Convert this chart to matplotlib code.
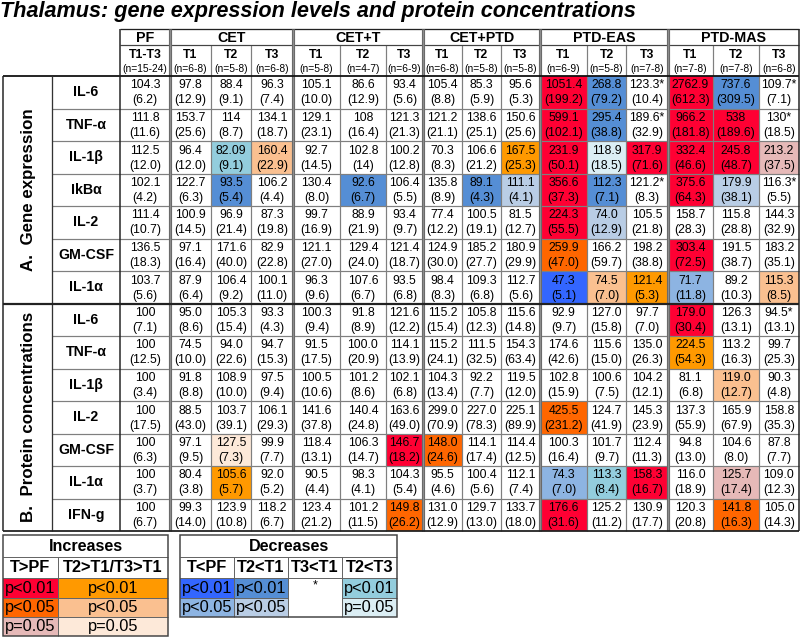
import matplotlib
matplotlib.use("Agg")
import matplotlib.pyplot as plt
from matplotlib.patches import Rectangle

plt.rcParams['font.family'] = ['Liberation Sans', 'DejaVu Sans']

title = "Thalamus: gene expression levels and protein concentrations"
groups = ["PF", "CET", "CET+T", "CET+PTD", "PTD-EAS", "PTD-MAS"]
group_sizes = [1, 3, 3, 3, 3, 3]
time_labels = ["T1-T3", "T1", "T2", "T3", "T1", "T2", "T3", "T1", "T2", "T3",
               "T1", "T2", "T3", "T1", "T2", "T3"]
n_labels = ["(n=15-24)", "(n=6-8)", "(n=5-8)", "(n=6-8)", "(n=5-8)", "(n=4-7)", "(n=6-9)",
            "(n=6-8)", "(n=5-8)", "(n=5-8)", "(n=6-9)", "(n=5-8)", "(n=7-8)",
            "(n=7-8)", "(n=7-8)", "(n=6-8)"]

section_labels = ["A.  Gene expression", "B.  Protein concentrations"]
gene_rows = ["IL-6", "TNF-α", "IL-1β", "IkBα", "IL-2", "GM-CSF", "IL-1α"]
protein_rows = ["IL-6", "TNF-α", "IL-1β", "IL-2", "GM-CSF", "IL-1α", "IFN-g"]

gene_mean = [
    ["104.3", "97.8", "88.4", "96.3", "105.1", "86.6", "93.4", "105.4", "85.3", "95.6", "1051.4", "268.8", "123.3*", "2762.9", "737.6", "109.7*"],
    ["111.8", "153.7", "114", "134.1", "129.1", "108", "121.3", "121.2", "138.6", "150.6", "599.1", "295.4", "189.6*", "966.2", "538", "130*"],
    ["112.5", "96.4", "82.09", "160.4", "92.7", "102.8", "100.2", "70.3", "106.6", "167.5", "231.9", "118.9", "317.9", "332.4", "245.8", "213.2"],
    ["102.1", "122.7", "93.5", "106.2", "130.4", "92.6", "106.4", "135.8", "89.1", "111.1", "356.6", "112.3", "121.2*", "375.6", "179.9", "116.3*"],
    ["111.4", "100.9", "96.9", "87.3", "99.7", "88.9", "93.4", "77.4", "100.5", "81.5", "224.3", "74.0", "105.5", "158.7", "115.8", "144.3"],
    ["136.5", "97.1", "171.6", "82.9", "121.1", "129.4", "121.4", "124.9", "185.2", "180.9", "259.9", "166.2", "198.2", "303.4", "191.5", "183.2"],
    ["103.7", "87.9", "106.4", "100.1", "96.3", "107.6", "93.5", "98.4", "109.3", "112.7", "47.3", "74.5", "121.4", "71.7", "89.2", "115.3"],
]
gene_sem = [
    ["6.2", "12.9", "9.1", "7.4", "10.0", "12.9", "5.6", "8.8", "5.9", "5.3", "199.2", "79.2", "10.4", "612.3", "309.5", "7.1"],
    ["11.6", "25.6", "8.7", "18.7", "23.1", "16.4", "21.3", "21.1", "25.1", "25.6", "102.1", "38.8", "32.9", "181.8", "189.6", "18.5"],
    ["12.0", "12.0", "9.1", "22.9", "14.5", "14", "12.8", "8.3", "21.2", "25.3", "50.1", "18.5", "71.6", "46.6", "48.7", "37.5"],
    ["4.2", "6.3", "5.4", "4.4", "8.0", "6.7", "5.5", "8.9", "4.3", "4.1", "37.3", "7.1", "8.3", "64.3", "38.1", "5.5"],
    ["10.7", "14.5", "21.4", "19.8", "16.9", "21.9", "9.7", "12.2", "19.1", "12.7", "55.5", "12.9", "21.8", "28.3", "28.8", "32.9"],
    ["18.3", "16.4", "40.0", "22.8", "27.0", "24.0", "18.7", "30.0", "27.7", "29.9", "47.0", "59.7", "38.8", "72.5", "38.7", "35.1"],
    ["5.6", "6.4", "9.2", "11.0", "9.6", "6.7", "6.8", "8.3", "6.8", "5.6", "5.1", "7.0", "5.3", "11.8", "10.3", "8.5"],
]
gene_sig = [
    ["", "", "", "", "", "", "", "", "", "", "R1", "D1", "", "R1", "D1", ""],
    ["", "", "", "", "", "", "", "", "", "", "R1", "D1", "", "R1", "R1", ""],
    ["", "", "C1", "O5", "", "", "", "", "", "O1", "R1", "C0", "R1", "R1", "R1", "R0"],
    ["", "", "D1", "", "", "D1", "", "", "D1", "D5", "R1", "D1", "", "R1", "D5", ""],
    ["", "", "", "", "", "", "", "", "", "", "R1", "D5", "", "", "", ""],
    ["", "", "", "", "", "", "", "", "", "", "R5", "", "", "R1", "", ""],
    ["", "", "", "", "", "", "", "", "", "", "B1", "O5", "O1", "B5", "", "O5"],
]

protein_mean = [
    ["100", "95.0", "105.3", "93.3", "100.3", "91.8", "121.6", "115.2", "105.8", "115.6", "92.9", "127.0", "97.7", "179.0", "126.3", "94.5*"],
    ["100", "74.5", "94.0", "94.7", "91.5", "100.0", "114.1", "115.2", "111.5", "154.3", "174.6", "115.6", "135.0", "224.5", "113.2", "99.7"],
    ["100", "91.8", "108.9", "97.5", "100.5", "101.2", "102.1", "104.3", "92.2", "119.5", "102.8", "100.6", "104.2", "81.1", "119.0", "90.3"],
    ["100", "88.5", "103.7", "106.1", "141.6", "140.4", "163.6", "299.0", "227.0", "225.1", "425.5", "124.7", "145.3", "137.3", "165.9", "158.8"],
    ["100", "97.1", "127.5", "99.9", "118.4", "106.3", "146.7", "148.0", "114.1", "114.4", "100.3", "101.7", "112.4", "94.8", "104.6", "87.8"],
    ["100", "80.4", "105.6", "92.0", "90.5", "98.3", "104.3", "95.5", "100.4", "112.1", "74.3", "113.3", "158.3", "116.0", "125.7", "109.0"],
    ["100", "99.3", "123.9", "118.2", "123.4", "101.2", "149.8", "131.0", "129.7", "133.7", "176.6", "125.2", "130.9", "120.3", "141.8", "105.0"],
]
protein_sem = [
    ["7.1", "8.6", "15.4", "4.3", "9.4", "8.9", "12.2", "15.4", "12.3", "14.8", "9.7", "15.8", "7.0", "30.4", "13.1", "13.1"],
    ["12.5", "10.0", "22.6", "15.3", "17.5", "20.9", "13.9", "24.1", "32.5", "63.4", "42.6", "15.0", "26.3", "54.3", "16.3", "25.3"],
    ["3.4", "8.8", "10.0", "9.4", "10.6", "8.6", "6.8", "13.4", "7.7", "12.0", "15.9", "7.5", "12.1", "6.8", "12.7", "4.8"],
    ["17.5", "43.0", "39.1", "29.3", "37.8", "24.8", "49.0", "70.9", "78.3", "89.9", "231.2", "41.9", "23.9", "55.9", "67.9", "35.3"],
    ["6.3", "9.5", "7.3", "7.7", "13.1", "14.7", "18.2", "24.6", "17.4", "12.5", "16.4", "9.7", "11.3", "13.0", "8.0", "7.7"],
    ["3.7", "3.8", "5.7", "5.2", "4.4", "4.1", "5.4", "4.6", "5.6", "7.4", "7.0", "8.4", "16.7", "18.9", "17.4", "12.3"],
    ["6.7", "14.0", "10.8", "6.7", "21.2", "11.5", "26.2", "12.9", "13.0", "18.0", "31.6", "11.2", "17.7", "20.8", "16.3", "14.3"],
]
protein_sig = [
    ["", "", "", "", "", "", "", "", "", "", "", "", "", "R1", "", ""],
    ["", "", "", "", "", "", "", "", "", "", "", "", "", "O1", "", ""],
    ["", "", "", "", "", "", "", "", "", "", "", "", "", "", "O5", ""],
    ["", "", "", "", "", "", "", "", "", "", "R5", "", "", "", "", ""],
    ["", "", "O0", "", "", "", "R1", "R5", "", "", "", "", "", "", "", ""],
    ["", "", "O1", "", "", "", "", "", "", "", "B5", "C1", "R1", "", "R0", ""],
    ["", "", "", "", "", "", "R5", "", "", "", "R1", "", "", "", "R5", ""],
]

sig_colors = {
    "R1": "#FF0033", "R5": "#FF6600", "R0": "#E6B9B8",
    "O1": "#FF9900", "O5": "#FAC090", "O0": "#FDE9D9",
    "B1": "#3366FF", "B5": "#8DB4E2",
    "D1": "#558ED5", "D5": "#B9CDE5",
    "C1": "#93CDDD", "C0": "#DBEEF4",
}

inc_headers = ["T>PF", "T2>T1/T3>T1"]
inc_levels = ["p<0.01", "p<0.05", "p=0.05"]
inc_codes = [["R1", "R5", "R0"], ["O1", "O5", "O0"]]
dec_headers = ["T<PF", "T2<T1", "T3<T1", "T2<T3"]
dec_texts = [["p<0.01", "p<0.05"], ["p<0.01", "p<0.05"], ["*", ""], ["p<0.01", "p=0.05"]]
dec_codes = [["B1", "B5"], ["D1", "D5"], ["", ""], ["C1", "C0"]]

# ---------------- layout ----------------
W, H = 800, 637
fig = plt.figure(figsize=(W / 100, H / 100), dpi=100)
ax = fig.add_axes([0, 0, 1, 1])
ax.set_xlim(0, W)
ax.set_ylim(H, 0)
ax.axis("off")

PX = 0.72  # points per pixel
col_edges = [120, 170, 211, 251, 293, 340, 386, 423, 462, 501, 540, 587, 626, 668, 713, 759, 799]
x_left, x_sec, x_name = 3, 52, 120
y_top, y_grp, y_hdr = 29, 45, 76
row_h = 32.5
n_rows = len(gene_rows) + len(protein_rows)
y_bottom = y_hdr + n_rows * row_h

GRID = "#7f7f7f"
SEP = "#8c8c8c"
FS_VAL = 8.8

fig.text(0.0, 1 - 12 / H, title, fontsize=15.6, fontweight="bold", style="italic",
         va="center", ha="left")

# colored cells
all_rows_mean = gene_mean + protein_mean
all_rows_sem = gene_sem + protein_sem
all_sig = gene_sig + protein_sig
for r in range(n_rows):
    y0 = y_hdr + r * row_h
    for c in range(len(col_edges) - 1):
        code = all_sig[r][c]
        if code:
            ax.add_patch(Rectangle((col_edges[c], y0), col_edges[c + 1] - col_edges[c], row_h,
                                   facecolor=sig_colors[code], edgecolor="none", zorder=1))
        xc = (col_edges[c] + col_edges[c + 1]) / 2
        ax.text(xc, y0 + 9.5, all_rows_mean[r][c], ha="center", va="center", fontsize=FS_VAL, zorder=3)
        ax.text(xc, y0 + 24.5, "(" + all_rows_sem[r][c] + ")", ha="center", va="center",
                fontsize=FS_VAL, zorder=3)

# header texts
gstart = 0
for g, size in zip(groups, group_sizes):
    x0, x1 = col_edges[gstart], col_edges[gstart + size]
    ax.text((x0 + x1) / 2, 37.5, g, ha="center", va="center", fontsize=10.3, fontweight="bold")
    gstart += size
for c in range(len(col_edges) - 1):
    xc = (col_edges[c] + col_edges[c + 1]) / 2
    ax.text(xc, 54.5, time_labels[c], ha="center", va="center", fontsize=8.8, fontweight="bold")
    ax.text(xc, 69.5, n_labels[c], ha="center", va="center", fontsize=7.4)

# row labels
row_names = gene_rows + protein_rows
for r, name in enumerate(row_names):
    y0 = y_hdr + r * row_h
    ax.text((x_sec + x_name) / 2, y0 + row_h / 2, name, ha="center", va="center",
            fontsize=10.2, fontweight="bold")
n_gene = len(gene_rows)
y_mid = y_hdr + n_gene * row_h
ax.text((x_left + x_sec) / 2 + 1, (y_hdr + y_mid) / 2, section_labels[0], rotation=90,
        ha="center", va="center", fontsize=12.2, fontweight="bold")
ax.text((x_left + x_sec) / 2 + 1, (y_mid + y_bottom) / 2, section_labels[1], rotation=90,
        ha="center", va="center", fontsize=12.2, fontweight="bold")

# grid lines
def hline(y, x0, x1, color=GRID, lw=1.0, z=4):
    ax.plot([x0, x1], [y, y], color=color, lw=lw * PX, zorder=z, solid_capstyle="butt")

def vline(x, y0, y1, color=GRID, lw=1.0, z=4):
    ax.plot([x, x], [y0, y1], color=color, lw=lw * PX, zorder=z, solid_capstyle="butt")

for r in range(1, n_rows):
    y = y_hdr + r * row_h
    if r == n_gene:
        continue
    hline(y, x_sec, col_edges[-1], lw=1.2)
group_bounds = [0]
for s in group_sizes:
    group_bounds.append(group_bounds[-1] + s)
for c in range(1, len(col_edges) - 1):
    if c in group_bounds:
        continue
    vline(col_edges[c], y_grp, y_bottom, lw=1.2)
for c in group_bounds[1:-1]:
    vline(col_edges[c], y_top, y_bottom, color=SEP, lw=3.2, z=5)
    vline(col_edges[c] - 1.4, y_top, y_bottom, color="#555555", lw=0.6, z=6)
    vline(col_edges[c] + 1.4, y_top, y_bottom, color="#555555", lw=0.6, z=6)
hline(y_top, x_name, col_edges[-1], color="#222222", lw=1.3)
hline(y_grp, x_name, col_edges[-1], color="#444444", lw=1.2)
hline(y_hdr, x_left, col_edges[-1], color="#111111", lw=1.8, z=6)
vline(x_name, y_top, y_bottom, color="#222222", lw=1.5, z=6)
vline(col_edges[-1], y_top, y_bottom, color="#222222", lw=1.5, z=6)
vline(x_left, y_hdr, y_bottom, color="#222222", lw=1.5, z=6)
vline(x_sec, y_hdr, y_bottom, color="#333333", lw=1.3, z=6)
hline(y_bottom, x_left, col_edges[-1], color="#222222", lw=1.8, z=6)
hline(y_mid, x_left, col_edges[-1], color="#222222", lw=2.2, z=6)

# ---------------- legends ----------------
LG = "#666666"
ix = [3, 58, 168]
iy = [535, 557, 578, 597.5, 617, 636]
for i in range(2):
    for j, code in enumerate(inc_codes[i]):
        ax.add_patch(Rectangle((ix[i], iy[2 + j]), ix[i + 1] - ix[i], iy[3 + j] - iy[2 + j],
                               facecolor=sig_colors[code], edgecolor="none", zorder=1))
        ax.text((ix[i] + ix[i + 1]) / 2, (iy[2 + j] + iy[3 + j]) / 2 + 0.5, inc_levels[j],
                ha="center", va="center", fontsize=11.8)
    ax.text((ix[i] + ix[i + 1]) / 2, (iy[1] + iy[2]) / 2 + 0.5, inc_headers[i], ha="center",
            va="center", fontsize=11.8, fontweight="bold")
ax.text((ix[0] + ix[-1]) / 2, (iy[0] + iy[1]) / 2 + 0.5, "Increases", ha="center", va="center",
        fontsize=11.6, fontweight="bold")
for y in iy[1:-1]:
    hline(y, ix[0], ix[-1], color=LG, lw=1.0)
vline(ix[1], iy[1], iy[-1], color=LG, lw=1.0)
ax.add_patch(Rectangle((ix[0], iy[0]), ix[-1] - ix[0], iy[-1] - iy[0], facecolor="none",
                       edgecolor="#444444", lw=1.5 * PX, zorder=6))

dx = [180, 234, 288, 342, 397]
dy = [535, 557, 578, 597.5, 617]
for i in range(4):
    for j in range(2):
        code = dec_codes[i][j]
        if code:
            ax.add_patch(Rectangle((dx[i], dy[2 + j]), dx[i + 1] - dx[i], dy[3 + j] - dy[2 + j],
                                   facecolor=sig_colors[code], edgecolor="none", zorder=1))
        if dec_texts[i][j]:
            yy = (dy[2 + j] + dy[3 + j]) / 2 + 0.5
            if dec_texts[i][j] == "*":
                yy = dy[2] + 7
            ax.text((dx[i] + dx[i + 1]) / 2, yy, dec_texts[i][j], ha="center", va="center",
                    fontsize=11.8 if dec_texts[i][j] != "*" else 9)
    ax.text((dx[i] + dx[i + 1]) / 2, (dy[1] + dy[2]) / 2 + 0.5, dec_headers[i], ha="center",
            va="center", fontsize=11.8, fontweight="bold")
ax.text((dx[0] + dx[-1]) / 2, (dy[0] + dy[1]) / 2 + 0.5, "Decreases", ha="center", va="center",
        fontsize=11.6, fontweight="bold")
hline(dy[1], dx[0], dx[-1], color=LG)
hline(dy[2], dx[0], dx[-1], color=LG)
hline(dy[3], dx[0], dx[2], color=LG)
hline(dy[3], dx[3], dx[4], color=LG)
for x in dx[1:-1]:
    vline(x, dy[1], dy[-1], color=LG)
ax.add_patch(Rectangle((dx[0], dy[0]), dx[-1] - dx[0], dy[-1] - dy[0], facecolor="none",
                       edgecolor="#444444", lw=1.5 * PX, zorder=6))

fig.savefig("out.png", dpi=100, facecolor="white")
